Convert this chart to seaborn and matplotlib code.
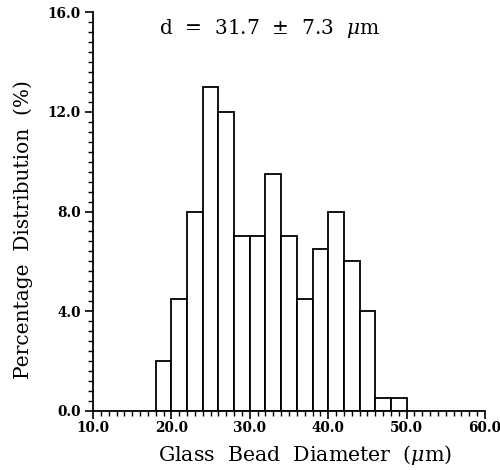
import matplotlib
matplotlib.use("Agg")
import matplotlib.pyplot as plt
import seaborn as sns
import numpy as np
from matplotlib.ticker import MultipleLocator, FormatStrFormatter

# Data
bin_edges = [18, 20, 22, 24, 26, 28, 30, 32, 34, 36, 38, 40, 42, 44, 46, 48, 50]
percent = [2.0, 4.5, 8.0, 13.0, 12.0, 7.0, 7.0, 9.5, 7.0, 4.5, 6.5, 8.0, 6.0, 4.0, 0.5, 0.5]
annotation = r"d  =  31.7  $\pm$  7.3  $\mu$m"

sns.set_theme(style="ticks")
plt.rcParams['font.family'] = ['DejaVu Serif']
plt.rcParams['mathtext.fontset'] = 'dejavuserif'
plt.rcParams['text.color'] = 'black'
plt.rcParams['axes.labelcolor'] = 'black'
plt.rcParams['xtick.color'] = 'black'
plt.rcParams['ytick.color'] = 'black'

centers = [(bin_edges[i] + bin_edges[i + 1]) / 2 for i in range(len(percent))]

fig = plt.figure(figsize=(5.0, 4.7), dpi=100)
ax = fig.add_axes([0.186, 0.126, 0.784, 0.848])

sns.histplot(x=centers, weights=percent, bins=bin_edges, stat="count",
             color="white", edgecolor="black", linewidth=1.3, alpha=1.0, ax=ax)

ax.set_xlim(10, 60)
ax.set_ylim(0, 16)
ax.xaxis.set_major_locator(MultipleLocator(10))
ax.xaxis.set_minor_locator(MultipleLocator(1))
ax.yaxis.set_major_locator(MultipleLocator(4))
ax.yaxis.set_minor_locator(MultipleLocator(0.4))
ax.xaxis.set_major_formatter(FormatStrFormatter("%.1f"))
ax.yaxis.set_major_formatter(FormatStrFormatter("%.1f"))

for s in ["top", "right"]:
    ax.spines[s].set_visible(False)
for s in ["left", "bottom"]:
    ax.spines[s].set_linewidth(1.3)
    ax.spines[s].set_color("black")

ax.tick_params(which="major", direction="out", length=6, width=1.2, color="black",
               labelcolor="black", labelsize=9.8, pad=1.5)
ax.tick_params(axis="y", which="major", pad=3)
ax.tick_params(which="minor", direction="out", length=3.5, width=1.0, color="black")
for lab in ax.get_xticklabels() + ax.get_yticklabels():
    lab.set_fontweight("bold")

ax.set_xlabel(r"Glass  Bead  Diameter  ($\mu$m)", fontsize=14.8)
ax.set_ylabel("Percentage  Distribution  (%)", fontsize=14.5)
ax.xaxis.set_label_coords(0.54, -0.08)
ax.yaxis.set_label_coords(-0.152, 0.455)

ax.text(0.45, 0.96, annotation, transform=ax.transAxes, ha="center", va="center",
        fontsize=14.5, color="black")

fig.savefig("out.png", dpi=100)
